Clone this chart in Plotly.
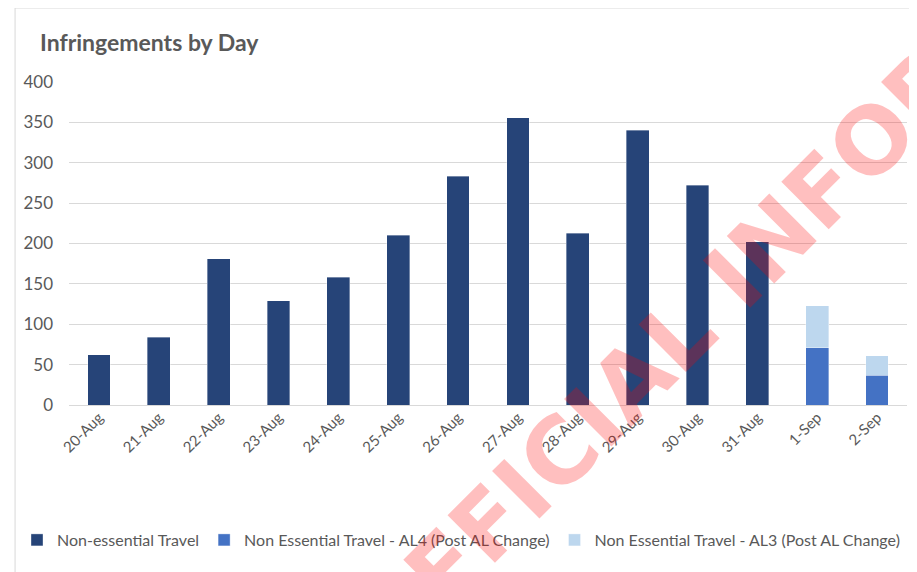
import plotly.graph_objects as go

days = ["20-Aug", "21-Aug", "22-Aug", "23-Aug", "24-Aug", "25-Aug", "26-Aug",
        "27-Aug", "28-Aug", "29-Aug", "30-Aug", "31-Aug", "1-Sep", "2-Sep"]
non_essential = [62, 84, 181, 129, 158, 210, 283, 356, 213, 340, 272, 202, None, None]
al4_post = [None] * 12 + [71, 37]
al3_post = [None] * 12 + [52, 24]

series_names = ["Non-essential Travel",
                "Non Essential Travel - AL4 (Post AL Change)",
                "Non Essential Travel - AL3 (Post AL Change)"]
series_colors = ["#264478", "#4472C4", "#BDD7EE"]

# page body has an 8px margin: lay the figure out in window pixels minus 8
OFF = 8
W, H = 917 - OFF, 572 - OFF
L, R = 68 - OFF, W - (907 - OFF)
T, B = 82 - OFF, H - (405 - OFF)
pw, ph = W - L - R, H - T - B

def px_x(x):
    return (x - OFF - L) / pw

def px_y(y):
    return (H - B - (y - OFF)) / ph

fig = go.Figure()
for vals, name, col in zip([non_essential, al4_post, al3_post], series_names, series_colors):
    fig.add_trace(go.Bar(x=days, y=vals, name=name, marker_color=col,
                         marker_line=dict(color="rgba(255,255,255,0.6)", width=0.6)))

fig.update_layout(
    width=W, height=H,
    barmode="stack", bargap=0.62,
    paper_bgcolor="white", plot_bgcolor="white",
    margin=dict(l=L, r=R, t=T, b=B),
    font=dict(family="Lato, Carlito, Calibri, sans-serif", color="#595959", size=16),
    title=dict(text="<b>Infringements by Day</b>", xref="container", x=(40 - OFF) / W,
               xanchor="left", yref="container", y=1 - (43 - OFF) / H, yanchor="middle",
               font=dict(size=23, color="#595959")),
    xaxis=dict(tickangle=-45, tickfont=dict(size=15, color="#595959"),
               showgrid=False, showline=False, ticks=""),
    yaxis=dict(range=[0, 400], dtick=50, showgrid=True, gridcolor="#D9D9D9",
               gridwidth=1, zeroline=True, zerolinecolor="#D9D9D9", zerolinewidth=1,
               tickfont=dict(size=17, color="#595959"), ticklabelstandoff=15),
    legend=dict(orientation="h", x=px_x(17), xanchor="left", y=px_y(540),
                yanchor="middle", font=dict(size=16, color="#595959"),
                traceorder="normal", itemwidth=30),
    showlegend=True,
)

fig.add_shape(type="rect", xref="paper", yref="paper",
              x0=px_x(14), x1=px_x(1100), y0=px_y(700), y1=px_y(8),
              line=dict(color="#D9D9D9", width=1), fillcolor="rgba(0,0,0,0)", layer="below")

fig.add_annotation(text="<b>OFFICIAL INFORMATION</b>", xref="paper", yref="paper",
                   x=px_x(803), y=px_y(211), xanchor="center", yanchor="middle",
                   textangle=-45, showarrow=False,
                   font=dict(family="DejaVu Sans, Liberation Sans, sans-serif", size=92,
                             color="rgba(255,0,0,0.25)"))

fig.write_html("out.html")
